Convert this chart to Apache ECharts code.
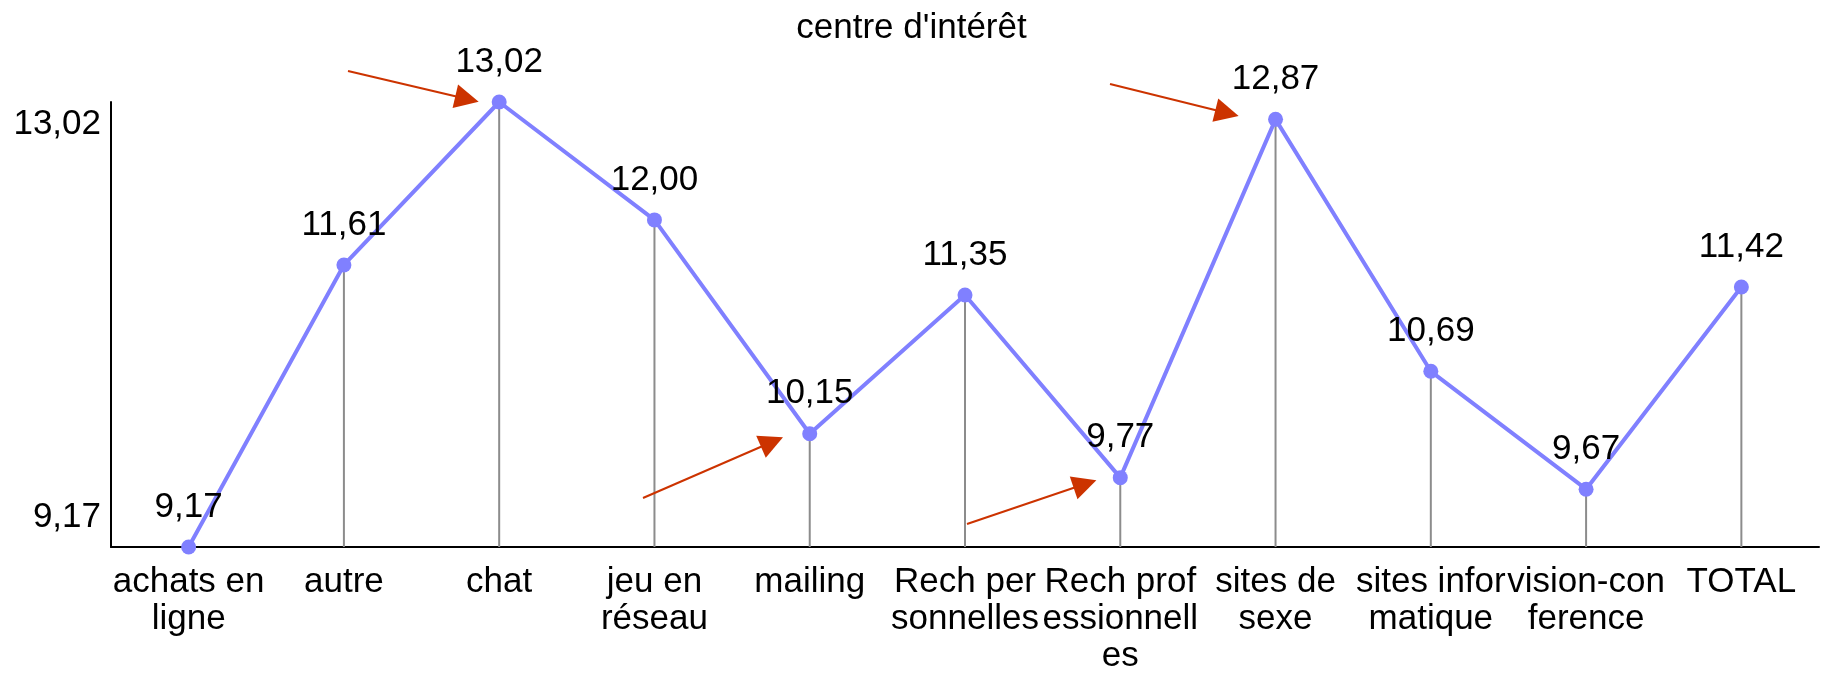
<!DOCTYPE html>
<html>
<head>
<meta charset="utf-8">
<title>centre d'intérêt</title>
<script src="https://cdn.jsdelivr.net/npm/echarts@6/dist/echarts.min.js"></script>
<style>
  html, body { margin: 0; padding: 0; background: #fff; }
  #main { width: 1823px; height: 678px; }
</style>
</head>
<body>
<div id="main"></div>
<script>
// categories (wrapped the way the original breaks them)
const categories = [
  'achats en\nligne', 'autre', 'chat', 'jeu en\nréseau', 'mailing',
  'Rech per\nsonnelles', 'Rech prof\nessionnell\nes', 'sites de\nsexe',
  'sites infor\nmatique', 'vision-con\nference', 'TOTAL'
]
const scores = [9.17, 11.61, 13.02, 12.00, 10.15, 11.35, 9.77, 12.87, 10.69, 9.67, 11.42]
const yTicks = [9.17, 13.02]

const fmt = v => v.toFixed(2).replace('.', ',')
const font = "'Liberation Sans', Arial, sans-serif"

const chart = echarts.init(document.getElementById('main'))
chart.setOption({
  animation: false,
  textStyle: { fontFamily: font },
  title: {
    text: "centre d'intérêt",
    left: 'center',
    top: 6,
    textStyle: { fontSize: 35, fontWeight: 'normal', color: '#000', fontFamily: font }
  },
  grid: { left: 111, right: 4, top: 102, bottom: 131, containLabel: false },
  xAxis: {
    type: 'category',
    data: categories,
    axisLine: { lineStyle: { color: '#000', width: 2 } },
    axisTick: { show: false },
    axisLabel: {
      interval: 0,
      hideOverlap: false,
      color: '#000',
      fontSize: 35,
      lineHeight: 37,
      margin: 17,
      fontFamily: font
    }
  },
  yAxis: {
    type: 'value',
    min: yTicks[0],
    max: yTicks[1],
    splitLine: { show: false },
    axisLine: { show: true, lineStyle: { color: '#000', width: 2 } },
    axisTick: { show: false },
    axisLabel: {
      customValues: yTicks,
      color: '#000',
      fontSize: 35,
      margin: 10,
      fontFamily: font,
      formatter: v => (v >= yTicks[1] - 0.001 ? '{hi|' : '{lo|') + fmt(v) + '}',
      rich: {
        hi: { fontSize: 35, color: '#000', fontFamily: font, padding: [44, 0, 0, 0] },
        lo: { fontSize: 35, color: '#000', fontFamily: font, padding: [0, 0, 60, 0] }
      }
    }
  },
  series: [
    {
      // grey drop lines under each point
      type: 'bar',
      data: scores,
      barWidth: 2,
      clip: true,
      silent: true,
      itemStyle: { color: '#8c8c8c' },
      z: 1
    },
    {
      type: 'line',
      data: scores,
      symbol: 'circle',
      symbolSize: 15,
      z: 3,
      lineStyle: { color: '#8080ff', width: 4 },
      itemStyle: { color: '#8080ff' },
      label: {
        show: true,
        position: 'top',
        distance: 15,
        color: '#000',
        fontSize: 35,
        fontFamily: font,
        formatter: p => fmt(p.value)
      },
      markLine: {
        silent: true,
        symbol: ['none', 'triangle'],
        symbolSize: 24,
        label: { show: false },
        lineStyle: { color: '#cc3300', width: 2, type: 'solid' },
        data: [
          [{ x: 348, y: 71 }, { x: 467, y: 99 }],
          [{ x: 1110, y: 84 }, { x: 1227, y: 113 }],
          [{ x: 643, y: 498 }, { x: 772, y: 442 }],
          [{ x: 967, y: 524 }, { x: 1085, y: 484 }]
        ]
      }
    }
  ]
})
</script>
</body>
</html>
